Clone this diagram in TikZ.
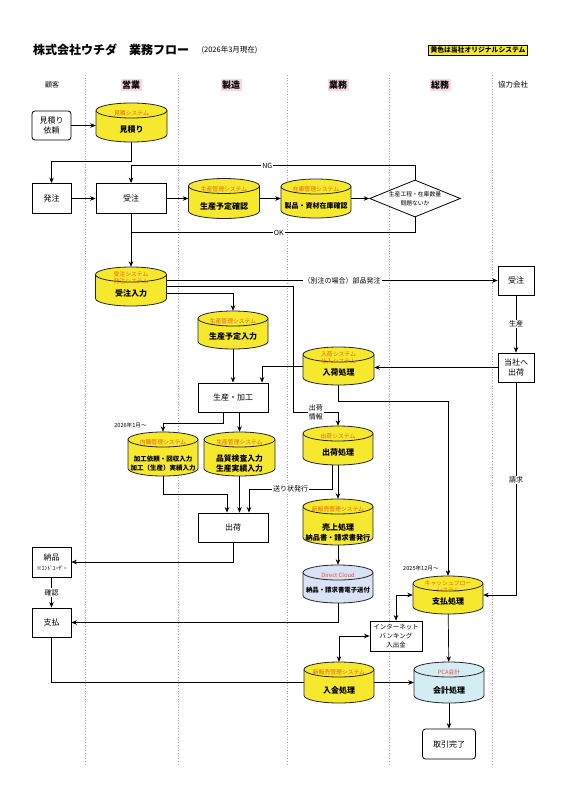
\documentclass[tikz,border=0pt]{standalone}
\usepackage{fontspec}
\setmainfont{Noto Sans CJK JP}
\usetikzlibrary{arrows.meta,positioning,shapes.geometric}

\definecolor{sysfill}{RGB}{246,232,45}
\definecolor{syslbl}{RGB}{232,100,20}
\definecolor{cloudfill}{RGB}{218,226,245}
\definecolor{pcafill}{RGB}{212,236,243}
\definecolor{extlbl}{RGB}{228,80,60}
\definecolor{headbg}{RGB}{250,214,226}
\definecolor{lanegray}{RGB}{165,165,165}

\newcommand{\setfs}[2]{\fontsize{#1}{#2}\selectfont}

% cylinder: [fill] name, x, y, width, height, system, text
\newcommand{\sysdb}[8][sysfill]{%
  \draw[dbline, fill=#1]
    ({#3-#5/2},{#4-#6/2+7.5}) -- ({#3-#5/2},{#4+#6/2-7.5})
    arc[start angle=180, end angle=360, x radius={#5*0.5pt}, y radius=7.5pt]
    -- ({#3+#5/2},{#4-#6/2+7.5})
    arc[start angle=0, end angle=180, x radius={#5*0.5pt}, y radius=7.5pt] -- cycle;
  \draw[dbline] ({#3-#5/2},{#4-#6/2+7.5})
    arc[start angle=180, end angle=360, x radius={#5*0.5pt}, y radius=7.5pt];
  \node[dbbox, minimum width=#5pt, minimum height=#6pt] (#2) at (#3,#4) {};
  \node[syslabel] (#2-sys) at (#3,{#4-#6/2+10.5}) {#7};
  \node[dbtext] (#2-txt) at (#3,{#4+#6/2-12.5}) {#8};
}

\tikzset{
  box/.style={draw, line width=0.8pt, fill=white, align=center,
    inner sep=1pt, font=\setfs{8}{10}},
  cbox/.style={box, minimum width=39pt, minimum height=29pt},
  wbox/.style={box, minimum width=70pt, minimum height=29pt},
  pbox/.style={box, minimum width=36pt, minimum height=29pt},
  decision/.style={draw, diamond, aspect=2.45, fill=white, line width=0.8pt,
    inner sep=0.5pt, minimum width=86pt, minimum height=35pt,
    align=center, font=\setfs{5.8}{9}},
  dbline/.style={draw=black!85, line width=0.8pt},
  dbbox/.style={inner sep=0pt},
  syslabel/.style={align=center, inner sep=0pt, text=syslbl, font=\setfs{5.8}{7}},
  dbtext/.style={align=center, inner sep=0pt, font=\bfseries\setfs{8}{9.5}},
  arrow/.style={-{Stealth[length=5.5pt, width=4.5pt]}, line width=0.7pt},
  both/.style={{Stealth[length=5.5pt, width=4.5pt]}-{Stealth[length=5.5pt, width=4.5pt]},
    line width=0.7pt},
  conn/.style={line width=0.7pt},
  tag/.style={fill=white, inner sep=1pt, align=center, font=\setfs{7}{9}},
  note/.style={inner sep=0pt, font=\setfs{5.6}{7}},
  lane/.style={lanegray, dotted, line width=0.7pt},
  head/.style={font=\bfseries\setfs{9}{11}, fill=headbg, inner sep=1.5pt}
}

\begin{document}
\begin{tikzpicture}[x=1pt, y=-1pt]
  \fill[white] (0,0) rectangle (565,800);
  \useasboundingbox (0,0) rectangle (565,800);

  % title and legend
  \node[anchor=west, inner sep=0pt, font=\bfseries\setfs{12}{14}] (title) at (33,50)
    {株式会社ウチダ　業務フロー};
  \node[right=12pt of title, inner sep=0pt, font=\setfs{7.5}{9}] (asof) {(2026年3月現在)};
  \node[draw, fill=sysfill, inner sep=2pt, font=\bfseries\setfs{6.8}{8}] (legend) at (478,50)
    {黄色は当社オリジナルシステム};

  % lanes
  \foreach \x in {85,178,287,389,492}
    \draw[lane] (\x,75) -- (\x,765);

  \node[font=\setfs{7}{9}] (hKokyaku) at (52,85) {顧客};
  \node[head] (hEigyo) at (131,85) {営業};
  \node[head] (hSeizo) at (231,85) {製造};
  \node[head] (hGyomu) at (338,85) {業務};
  \node[head] (hSomu) at (440,85) {総務};
  \node[font=\setfs{7.5}{9}] (hKyoryoku) at (513,85) {協力会社};

  % customer
  \node[cbox, rounded corners=3pt] (irai) at (51.5,125.5) {見積り\\依頼};
  \node[cbox, minimum height=30pt] (hatchu) at (51.5,198.5) {発注};
  \node[cbox, minimum height=30pt] (nohin) at (51.5,562)
    {納品\\\setfs{5.5}{6}※ｴﾝﾄﾞﾕｰｻﾞｰ};
  \node[cbox] (shiharai) at (51.5,622.5) {支払};

  % sales
  \sysdb{mitsumori}{131.5}{122.5}{71}{39}{見積システム}{見積り}
  \node[wbox, minimum height=30pt] (juchu) at (131,198.5) {受注};
  \sysdb{jinput}{131}{286.5}{71}{39}{受注システム\\発注システム}{受注入力}

  % production
  \sysdb{yotei}{224}{198.5}{71}{40}{生産管理システム}{生産予定確認}
  \sysdb{seisanYotei}{233}{330}{70}{38}{生産管理システム}{生産予定入力}
  \node[wbox] (kakou) at (233,397.5) {生産・加工};
  \sysdb{naishoku}{163}{454}{70}{44}{内職管理システム}
    {\setfs{6.5}{10}加工依頼・回収入力\\\setfs{6.5}{10}加工（生産）実績入力}
  \sysdb{hinshitsu}{239.5}{454}{71}{44}{生産管理システム}
    {\setfs{7.8}{9}品質検査入力\\\setfs{7.8}{9}生産実績入力}
  \node[wbox] (shukka) at (233,527.5) {出荷};

  % operations
  \sysdb{zaiko}{316}{198.5}{70}{39}{在庫管理システム}{\setfs{7}{9}製品・資材在庫確認}
  \sysdb{nyuka}{338.5}{366}{71}{38}{入荷システム\\仕入システム}{入荷処理}
  \sysdb{shukkaSys}{338}{445.5}{70}{39}{出荷システム}{出荷処理}
  \sysdb{uriage}{338}{522}{70}{46}{新販売管理システム}
    {売上処理\\\setfs{7.2}{9}納品書・請求書発行}
  \sysdb[cloudfill]{dcloud}{338}{584}{70}{38}{\textcolor{extlbl}{Direct Cloud}}
    {\setfs{6.4}{8}納品・請求書電子送付}
  \sysdb{nyukin}{339}{682.5}{70}{41}{新販売管理システム}{入金処理}

  % general affairs
  \node[decision] (check) at (415,198.5) {生産工程・在庫数量\\問題ないか};
  \sysdb{shiharaiSys}{448}{595}{70}{38}{キャッシュフロー\\システム}{支払処理}
  \node[box, minimum width=52pt, minimum height=30pt, font=\setfs{6.5}{9.3}] (ib)
    at (396,636) {インターネット\\バンキング\\入出金};
  \sysdb[pcafill]{kaikei}{449}{682.5}{70}{41}{\textcolor{extlbl}{PCA会計}}{会計処理}
  \node[box, rounded corners=3pt, minimum width=53pt, minimum height=30pt] (kanryo)
    at (449,744) {取引完了};

  % partner
  \node[pbox] (kjuchu) at (516,280.5) {受注};
  \node[pbox] (toushaShukka) at (516,367.5) {当社へ\\出荷};

  % connectors
  \draw[arrow] (irai.east) -- (irai.east -| mitsumori.west);
  \draw[arrow] (mitsumori.south) -- ++(0,19) -| (hatchu.north);
  \draw[arrow] (hatchu) -- (juchu);
  \draw[arrow] (juchu) -- (yotei);
  \draw[arrow] (yotei) -- (zaiko);
  \draw[arrow] (zaiko) -- (check);
  \draw[arrow] (check.north) -- ++(0,-14) -| node[tag, pos=0.26] {NG} (juchu.north);
  \coordinate (okjoin) at (juchu.south |- 0,232.5);
  \draw[conn] (check.south) |- node[tag, pos=0.74] {OK} (okjoin);
  \draw[arrow] (juchu) -- (jinput);

  \draw[arrow] ([yshift=6pt]jinput.east) -- node[tag, pos=0.53] {（別注の場合）部品発注} (kjuchu.west);
  \draw[arrow] (jinput.east) -- ++(127,0) -- ++(0,126)
    -| node[tag, pos=0.25] {出荷\\情報} (shukkaSys.north);
  \draw[arrow] ([yshift=-7pt]jinput.east) -| (seisanYotei.north);
  \draw[arrow] (seisanYotei) -- (kakou);
  \draw[arrow] (nyuka.west) -| ([xshift=29pt]kakou.north);
  \draw[arrow] ([xshift=-10pt]kakou.south) -- ++(0,11)
    -| node[note, pos=0.5, left=16pt, yshift=-2pt] {2026年1月〜} (naishoku.north);
  \draw[arrow] (hinshitsu.north |- kakou.south) -- (hinshitsu.north);
  \draw[arrow] (naishoku.south) -- ++(0,18) -| ([xshift=-6pt]shukka.north);
  \draw[arrow] (hinshitsu.south) -- (hinshitsu.south |- shukka.north);
  \draw[arrow] ([xshift=-6pt]shukkaSys.south) -- ++(0,24)
    -| node[tag, pos=0.25] {送り状発行} ([xshift=16pt]shukka.north);
  \draw[arrow] (shukkaSys) -- (uriage);
  \draw[arrow] (uriage) -- (dcloud);
  \draw[arrow] (shukka.south) |- (nohin.east);
  \draw[arrow] (nohin) -- node[tag] {確認} (shiharai);
  \draw[arrow] (dcloud.south) |- (shiharai.east);
  \draw[conn] (shiharai.south) |- (nyukin.west);
  \draw[arrow] (nyukin) -- (kaikei);
  \draw[arrow] (kaikei) -- (kanryo);

  \draw[arrow] (kjuchu) -- node[tag] {生産} (toushaShukka);
  \draw[arrow] (toushaShukka) -- (toushaShukka -| nyuka.east);
  \draw[arrow] (toushaShukka.south) |- node[tag, pos=0.23] {請求} (shiharaiSys.east);
  \draw[arrow] (nyuka.south) -- ++(0,16)
    -| node[note, pos=0.98, left=9pt] {2025年12月〜} (shiharaiSys.north);
  \draw[both] (ib.north) |- (shiharaiSys.west);
  \draw[both] (ib.west) -| (nyukin.north);
  \draw[arrow] (shiharaiSys) -- (kaikei);
\end{tikzpicture}
\end{document}
